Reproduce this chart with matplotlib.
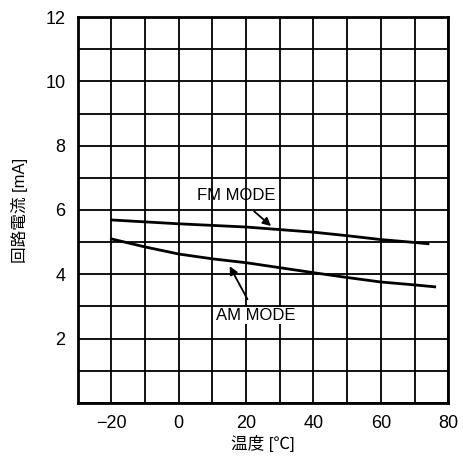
import matplotlib
matplotlib.use("Agg")
import matplotlib.pyplot as plt
import numpy as np

plt.rcParams['font.family'] = ['Liberation Sans', 'Noto Sans CJK JP', 'DejaVu Sans']

# temperature [C] and circuit current [mA]
fm_temp = [-20, -10, 0, 20, 40, 50, 60, 70, 74]
fm_current = [5.69, 5.63, 5.57, 5.47, 5.31, 5.2, 5.08, 4.99, 4.95]
am_temp = [-20, -10, 0, 10, 20, 40, 50, 60, 70, 76]
am_current = [5.10, 4.85, 4.63, 4.48, 4.36, 4.05, 3.90, 3.76, 3.67, 3.61]

x_ticks = [-20, 0, 20, 40, 60, 80]
y_ticks = [2, 4, 6, 8, 10, 12]

fig = plt.figure(figsize=(4.63, 4.74), dpi=100)
ax = fig.add_axes([0.168, 0.150, 0.800, 0.814])

ax.plot(fm_temp, fm_current, color='black', lw=2)
ax.plot(am_temp, am_current, color='black', lw=2)

ax.set_xlim(-30, 80)
ax.set_ylim(0, 12)
ax.set_xticks(x_ticks)
ax.set_xticklabels(['\u221220', '0', '20', '40', '60', '80'])
ax.set_yticks(y_ticks)
ax.set_xticks(np.arange(-30, 81, 10), minor=True)
ax.set_yticks(np.arange(0, 13, 1), minor=True)
ax.grid(which='both', color='black', lw=1.3)
ax.tick_params(which='both', length=0, labelsize=13, pad=9)
for s in ax.spines.values():
    s.set_linewidth(2)

ax.annotate('FM MODE', xy=(27.4, 5.5), xytext=(17, 6.45), ha='center', va='center',
            fontsize=12, arrowprops=dict(arrowstyle='-|>', color='black', lw=1.3,
                                         shrinkA=6, shrinkB=0, mutation_scale=12))
ax.annotate('AM MODE', xy=(15.1, 4.25), xytext=(23, 2.72), ha='center', va='center',
            fontsize=12, arrowprops=dict(arrowstyle='-|>', color='black', lw=1.3,
                                         shrinkA=6, shrinkB=0, mutation_scale=12),
            bbox=dict(facecolor='white', edgecolor='none', pad=1))

ax.set_xlabel('温度 [℃]', fontsize=12, labelpad=2)
ax.set_ylabel('回路電流 [mA]', fontsize=12, labelpad=12)

fig.savefig('out.png', dpi=100)
